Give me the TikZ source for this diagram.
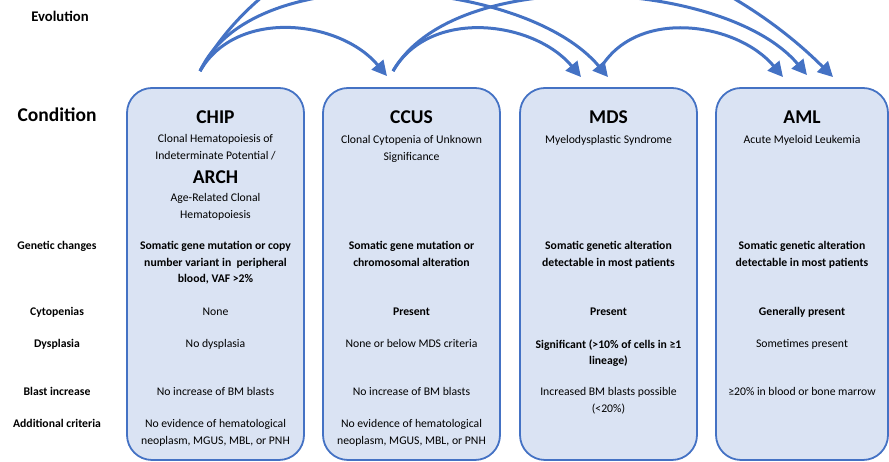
\documentclass[tikz,border=0pt]{standalone}
\usepackage{fontspec}
\setmainfont{Carlito}
\usepackage{tikz}
\usetikzlibrary{arrows.meta,positioning}
\definecolor{evoblue}{HTML}{4472C4}
\definecolor{boxfill}{HTML}{DAE3F3}

\begin{document}
\begin{tikzpicture}[
  x=1pt,y=1pt,
  condbox/.style={draw=evoblue,fill=boxfill,line width=1.8pt,rounded corners=25pt,minimum width=177pt,minimum height=372pt,inner sep=0pt},
  condtitle/.style={font=\fontsize{19.5}{23}\selectfont\bfseries,inner sep=0pt},
  rowlabel/.style={font=\fontsize{11.7}{16.5}\selectfont\bfseries,align=center,anchor=north,inner sep=0pt},
  celltext/.style={font=\fontsize{11.7}{16.5}\selectfont,align=center,anchor=north,inner sep=0pt},
  cellbold/.style={celltext,font=\fontsize{11.7}{16.5}\selectfont\bfseries},
  evo/.style={evoblue,line width=3pt,-{Triangle[length=15pt,width=15pt]}}
]
\clip (0,0) rectangle (889,462);

% Row labels
\node[font=\fontsize{14.7}{18}\selectfont\bfseries,inner sep=0pt] (evolution) at (60,446) {Evolution};
\node[font=\fontsize{19.5}{23}\selectfont\bfseries,inner sep=0pt] (condition) at (57,347) {Condition};
\node[rowlabel] (genetic) at (57,220.5) {Genetic changes};
\node[rowlabel] (cyto) at (57,154.5) {Cytopenias};
\node[rowlabel] (dysp) at (57,122.5) {Dysplasia};
\node[rowlabel] (blast) at (57,74.5) {Blast increase};
\node[rowlabel] (addit) at (57,42.5) {Additional criteria};

% Condition boxes
\node[condbox] (chip) at (215.5,188) {};
\node[condbox] (ccus) at (411.5,188) {};
\node[condbox] (mds) at (608.5,188) {};
\node[condbox,minimum width=172pt] (aml) at (802,188) {};

% CHIP
\node[condtitle] (chiptitle) at (215.5,345) {CHIP};
\node[celltext] (chipname) at (215.5,327.5) {Clonal Hematopoiesis of\\Indeterminate Potential /};
\node[condtitle] (archtitle) at (215.5,285) {ARCH};
\node[celltext] (archname) at (215.5,268.5) {Age-Related Clonal\\Hematopoiesis};
\node[cellbold] (chipgen) at (215.5,220.5) {Somatic gene mutation or copy\\number variant in~ peripheral\\blood, VAF >2\%};
\node[celltext] (chipcyto) at (215.5,154.5) {None};
\node[celltext] (chipdysp) at (215.5,122.5) {No dysplasia};
\node[celltext] (chipblast) at (215.5,74.5) {No increase of BM blasts};
\node[celltext] (chipaddit) at (215.5,42.5) {No evidence of hematological\\neoplasm, MGUS, MBL, or PNH};

% CCUS
\node[condtitle] (ccustitle) at (411.5,345) {CCUS};
\node[celltext] (ccusname) at (411.5,326.5) {Clonal Cytopenia of Unknown\\Significance};
\node[cellbold] (ccusgen) at (411.5,220.5) {Somatic gene mutation or\\chromosomal alteration};
\node[cellbold] (ccuscyto) at (411.5,154.5) {Present};
\node[celltext] (ccusdysp) at (411.5,122.5) {None or below MDS criteria};
\node[celltext] (ccusblast) at (411.5,74.5) {No increase of BM blasts};
\node[celltext] (ccusaddit) at (411.5,42.5) {No evidence of hematological\\neoplasm, MGUS, MBL, or PNH};

% MDS
\node[condtitle] (mdstitle) at (608.5,345) {MDS};
\node[celltext] (mdsname) at (608.5,326.5) {Myelodysplastic Syndrome};
\node[cellbold] (mdsgen) at (608.5,220.5) {Somatic genetic alteration\\detectable in most patients};
\node[cellbold] (mdscyto) at (608.5,154.5) {Present};
\node[cellbold] (mdsdysp) at (608.5,122.5) {Significant (>10\% of cells in ≥1\\lineage)};
\node[celltext] (mdsblast) at (608.5,74.5) {Increased BM blasts possible\\(<20\%)};

% AML
\node[condtitle] (amltitle) at (802,345) {AML};
\node[celltext] (amlname) at (802,326.5) {Acute Myeloid Leukemia};
\node[cellbold] (amlgen) at (802,220.5) {Somatic genetic alteration\\detectable in most patients};
\node[cellbold] (amlcyto) at (802,154.5) {Generally present};
\node[celltext] (amldysp) at (802,122.5) {Sometimes present};
\node[celltext] (amlblast) at (802,74.5) {≥20\% in blood or bone marrow};

% Arrow ends
\coordinate (chip-out) at ([shift={(-15.5,16)}]chip.north);
\coordinate (ccus-out) at ([shift={(-18.5,16)}]ccus.north);
\coordinate (mds-out) at ([shift={(-8.5,18)}]mds.north);
\coordinate (ccus-in) at ([shift={(-24.5,11)}]ccus.north);
\coordinate (mds-in1) at ([shift={(-27.5,10)}]mds.north);
\coordinate (mds-in2) at ([shift={(-0.5,10)}]mds.north);
\coordinate (aml-in1) at ([shift={(-19,10)}]aml.north);
\coordinate (aml-in2) at ([shift={(5,12)}]aml.north);
\coordinate (aml-in3) at ([shift={(31,10)}]aml.north);

% Evolution arrows
\draw[evo] (chip-out) to[out=60,in=130] (ccus-in);
\draw[evo] (chip-out) to[out=65,in=130,looseness=0.8] (mds-in2);
\draw[evo] (chip-out) to[out=60,in=135] (aml-in3);
\draw[evo] (ccus-out) to[out=60,in=130] (mds-in1);
\draw[evo] (ccus-out) to[out=60,in=130,looseness=0.77] (aml-in2);
\draw[evo] (mds-out) to[out=60,in=130] (aml-in1);

\end{tikzpicture}
\end{document}
